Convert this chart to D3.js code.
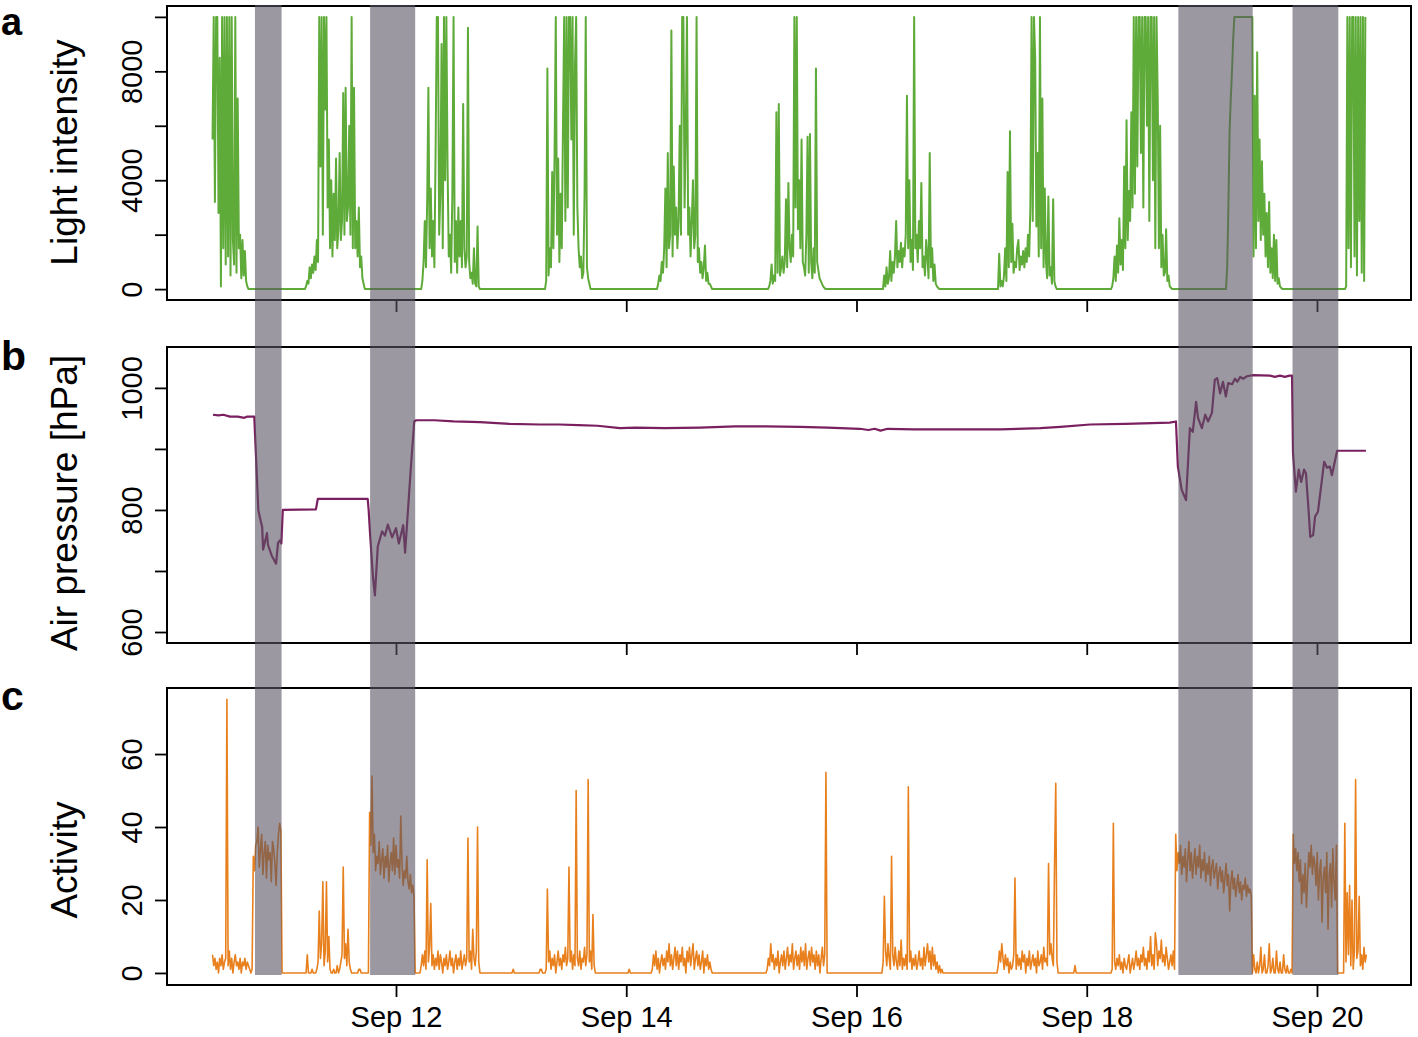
<!DOCTYPE html>
<html><head><meta charset="utf-8">
<script src="https://cdn.jsdelivr.net/npm/d3@7"></script>
<style>html,body{margin:0;padding:0;background:#fff;} svg{display:block;}</style>
</head><body>
<svg id="chart" width="1418" height="1037"></svg>
<script>
// ---------- DATA (hours since Sep 10 00:00) ----------
const STEP_H = 0.25; // sampling step inside each recorded block (hours)

// Light intensity blocks: start hour + readings every 15 min
const lightStarts = [9.75, 29.0, 53.0, 79.06, 102.41, 125.55, 149.52, 173.5, 197.05, 221.03, 245.83];
const lightSep10 = [5500,10000,3200,10000,10000,2800,8500,100,10000,1500,10000,900,10000,1200,10000,500,10000,1800,900,10000,600,7000,1500,2000,400,1800,500,1400,300,100,0];
const lightSep11 = [0,100,300,200,800,400,900,600,1200,700,1800,1000,10000,4500,10000,2000,10000,6600,10000,3000,5500,1500,4000,1200,3500,1800,4800,1500,2200,5000,1800,2500,7200,2000,7400,2500,3000,6000,2000,10000,1500,7400,1500,2500,1200,3000,800,1200,400,200,0];
const lightSep12 = [0,0,300,1000,2500,800,3200,7400,1500,3700,1200,2500,800,5000,10000,10000,2000,3500,9000,1500,10000,4000,10000,4500,1200,2000,600,3500,10000,1000,2500,600,3000,1200,2500,800,6800,1500,800,1200,9600,1000,400,600,200,1500,200,100,2300,100,0];
const lightSep13 = [0,300,8100,500,1500,800,4300,1500,5000,10000,2000,4800,1000,3500,1500,6000,10000,2500,10000,3000,10000,10000,5500,10000,2000,8200,10000,3000,1500,800,1200,400,600,3500,10000,800,400,200,0];
const lightSep14 = [0,200,500,300,1000,600,1500,3700,800,5000,1500,2000,9500,1200,4500,2000,3000,1500,2500,6000,2000,10000,10000,3000,5800,10000,2000,3000,1200,2500,4000,1500,2000,10000,1000,1500,600,1000,400,800,1600,300,600,200,200,100,0];
const lightSep15 = [0,100,300,900,200,500,300,6500,600,6800,500,800,1200,600,1000,3300,800,3900,1500,1000,2000,1200,10000,3000,10000,2200,4000,1500,5500,1000,800,500,2000,5600,600,5700,1000,400,1500,600,8100,1000,700,400,300,200,100,50,0];
const lightSep16 = [0,500,100,800,200,400,1400,300,1000,600,1200,2500,800,1400,1000,1700,800,1500,1200,2000,7100,1500,4000,1000,1800,700,10000,1500,2000,1000,2500,1500,3900,800,1200,500,1800,1200,400,5000,800,1500,300,900,200,100,50,0];
const lightSep17 = [0,1300,100,300,100,500,1500,300,4300,800,5800,1000,2400,600,1000,800,1500,1800,700,1200,900,1400,800,1500,1000,2000,1200,3000,10000,2500,10000,8500,2300,5000,1200,10000,1500,7000,800,3700,1000,400,3400,500,800,200,3300,300,100,0];
const lightSep18 = [0,100,400,1200,300,1600,600,2600,900,1800,700,4500,1500,6200,1800,3600,2500,6500,3000,10000,3500,10000,4500,10000,10000,5000,10000,3000,10000,10000,6000,10000,2500,10000,10000,4000,10000,1500,10000,7000,1500,6000,800,2000,500,600,2200,300,500,100,50,0];
const lightSep19 = [0,800,3000,5800,7000,8000,9200,10000,10000,10000,10000,10000,10000,10000,10000,10000,10000,10000,10000,10000,10000,10000,10000,1200,7100,1500,8700,2500,5500,1800,4700,2000,3500,1200,2800,800,3200,600,1500,400,2000,300,1800,200,400,100,50,0];
const lightSep20 = [0,100,10000,1500,10000,800,10000,10000,1200,10000,500,10000,2500,10000,600,10000,300,10000];
const lightDays = [lightSep10, lightSep11, lightSep12, lightSep13, lightSep14, lightSep15, lightSep16, lightSep17, lightSep18, lightSep19, lightSep20];

// Air pressure [hPa]: [hour, value]
const pressure = [[9.85,956],[11.0,955],[12.0,956],[13.4,953],[15.0,953],[16.4,951],[17.0,953],[18.45,953],[19.3,800],[19.7,785],[20.1,772],[20.3,735],[21.1,762],[21.3,743],[22.1,725],[23.0,712],[23.4,746],[23.8,750],[24.1,745],[24.4,800],[31.3,801],[31.7,818],[42.1,818],[42.3,800],[42.6,760],[43.2,690],[43.6,660],[44.2,740],[45.1,765],[45.7,758],[46.3,776],[47.2,755],[48.0,770],[48.6,745],[49.5,775],[49.9,730],[50.5,800],[51.1,870],[51.8,945],[52.2,947],[56,947],[60,945],[65.5,944],[71.7,941],[78,940],[82,940],[86,939],[90,938],[94.7,934],[98,935],[104,934],[111.4,935],[118.7,937],[125,937],[132.2,936],[138,935],[144.7,933],[146.5,931],[147.8,933],[149,930],[150.5,933],[156,932],[165.6,932],[174,932],[182.3,934],[186.5,936],[192.7,940],[200,941],[209.3,943],[210.6,945],[211.0,871],[211.8,833],[212.7,816],[213.5,934],[214.1,928],[214.8,977],[215.2,951],[216.0,934],[216.7,956],[217.3,945],[218.1,959],[218.7,1013],[219.2,1016],[219.8,991],[220.4,1010],[221.0,986],[221.5,1008],[222.3,1006],[222.9,1015],[223.4,1010],[224.0,1018],[224.6,1015],[225.4,1019],[226.7,1021],[230.2,1020],[231.2,1018],[232.3,1020],[233.3,1018],[234.3,1020],[234.8,1020],[235.0,893],[235.6,830],[236.2,866],[236.7,846],[237.3,866],[237.7,860],[238.2,805],[238.6,756],[239.2,759],[239.6,789],[240.2,797],[241.5,879],[242.1,869],[242.7,871],[243.1,857],[244.2,897],[250.2,897]];

// Activity blocks: start hour + readings every 15 min
const activityStarts = [9.75, 29.0, 72.18, 77.81, 96.37, 101.18, 125.13, 149.31, 173.29, 189.3, 197.05];
const actSep10 = [5,2,4,1,3,0,4,2,5,1,3,4,75,2,6,1,4,0,3,5,2,3,1,4,0,3,2,4,1,3,2,1,0,1,32,28,35,36,40,29,34,38,27,33,36,26,35,31,33,25,36,34,30,24,33,38,41,39,0];
const actSep11 = [0,0,5,0,0,0,1,0,0,0,1,3,17,4,8,25,2,6,25,3,10,1,0,0,1,0,0,2,0,1,3,5,29,4,8,2,12,3,1,0,0,0,0,0,0,1,1,0,0,
  0,0,0,0,0,
  44,35,54,33,38,28,32,30,36,27,31,34,26,32,29,35,25,30,33,28,37,27,35,29,31,26,43,30,24,28,26,32,25,23,27,22,24,21,
  0,0,0,0,0,
  2,5,2,6,1,31,3,7,19,2,5,1,4,2,6,1,5,3,0,4,2,5,1,3,6,2,4,0,3,5,1,4,2,6,1,3,5,2,4,37,3,6,1,12,4,2,6,40,3,0];
const actSep12Night = [0,1,0];
const actSep13 = [0,1,1,0,0,0,1,23,3,6,1,4,2,5,0,3,6,2,4,1,5,3,7,2,4,29,3,6,1,5,2,50,4,2,6,1,4,3,7,2,5,53,3,6,1,16,2,0];
const actSep13Night = [0,1,0];
const actSep14 = [0,1,5,2,6,1,4,0,3,5,2,4,1,6,3,8,2,5,1,4,7,2,6,1,5,3,7,2,4,0,6,3,7,2,5,8,1,4,6,2,5,1,3,6,0,4,2,5,1,3,1,0];
const actSep15 = [0,1,4,2,8,3,5,1,4,2,6,0,3,5,2,6,1,4,7,2,5,3,8,1,4,6,2,5,1,7,3,6,2,8,1,4,6,2,7,3,5,1,6,2,5,0,4,7,2,5,55,0];
const actSep16 = [0,3,21,6,2,8,4,1,32,5,2,7,3,1,6,2,9,1,4,2,5,1,51,3,6,1,4,2,5,1,3,6,2,4,1,7,2,5,8,3,6,1,7,2,5,1,3,0,2,0,1,0];
const actSep17 = [0,2,6,3,8,4,1,5,2,4,0,3,1,2,5,26,1,5,2,4,1,6,3,5,0,4,2,6,1,3,5,2,4,0,6,2,3,5,1,7,3,4,2,30,5,8,4,2,30,52,3,0];
const actSep17Night = [0,2,0];
const actSep18to20 = [0,1,41,3,1,4,2,5,1,3,0,4,2,1,3,5,0,2,4,1,3,6,2,4,1,5,3,7,2,4,1,6,3,10,2,5,1,11,8,2,6,4,9,3,5,2,7,4,1,3,5,2,6,1,
  38,28,33,30,35,27,32,29,34,25,31,36,28,33,26,30,34,27,32,29,35,26,31,28,33,25,30,27,32,24,29,31,26,28,30,23,27,29,25,28,22,26,30,24,27,17,25,28,23,26,21,24,27,22,25,20,24,23,26,21,24,22,23,21,
  0,
  5,1,0,3,0,2,7,0,1,5,0,0,2,8,0,1,4,0,0,6,1,0,3,0,0,5,1,0,2,0,0,1,0,
  38,30,34,28,33,25,31,19,27,22,30,18,26,33,29,35,27,32,30,24,33,20,28,31,14,26,29,22,33,12,27,30,18,34,25,20,35,
  0,0,0,0,0,0,41,3,22,5,24,2,20,1,6,53,4,6,21,2,5,1,7,3,5];
const activityDays = [actSep10, actSep11, actSep12Night, actSep13, actSep13Night, actSep14, actSep15, actSep16, actSep17, actSep17Night, actSep18to20];

// Shaded (flight) periods [startHour, endHour]
const shadeStart = [18.6, 42.6, 211.1, 234.9];
const shadeEnd   = [24.15, 52.0, 226.6, 244.45];

// Axis ticks
const xTickHours = [48, 96, 144, 192, 240];
const lightTicks = [0, 2000, 4000, 6000, 8000, 10000];
const lightTickLabels = [0, 4000, 8000];
const pressureTicks = [600, 700, 800, 900, 1000];
const pressureTickLabels = [600, 800, 1000];
const activityTicks = [0, 20, 40, 60];
const activityTickLabels = [0, 20, 40, 60];

const panelLetters = ["a", "b", "c"];
const yTitles = ["Light intensity", "Air pressure [hPa]", "Activity"];

// ---------- DRAWING ----------
const t0 = new Date(2019, 8, 10, 0, 0, 0);
const toDate = h => new Date(t0.getTime() + h * 3600000);
function expand(starts, days) {
  const out = [];
  starts.forEach((s, i) => days[i].forEach((v, j) => out.push({t: toDate(s + j * STEP_H), v})));
  return out;
}
const lightData = expand(lightStarts, lightDays);
const activityData = expand(activityStarts, activityDays);
const pressureData = pressure.map(d => ({t: toDate(d[0]), v: d[1]}));

const FONT = "'Liberation Sans', Arial, Helvetica, sans-serif";
const L = 167, R = 1411;
const panels = [
  {top: 6, bottom: 300, domain: [-400, 10400], ticks: lightTicks, labels: lightTickLabels, data: lightData, color: "#5fab3a", width: 2, titleY: 152.5},
  {top: 347, bottom: 643, domain: [582, 1067], ticks: pressureTicks, labels: pressureTickLabels, data: pressureData, color: "#7a1f5f", width: 2.2, titleY: 503},
  {top: 688, bottom: 985, domain: [-3.3, 78.1], ticks: activityTicks, labels: activityTickLabels, data: activityData, color: "#e8801e", width: 1.6, titleY: 860}
];
const letterBase = [35, 370, 710];
const letterSize = [38, 41, 41];

const svg = d3.select("#chart");
const x = d3.scaleTime().domain([toDate(0.26), toDate(259.6)]).range([L, R]);

panels.forEach((p, i) => {
  const y = d3.scaleLinear().domain(p.domain).range([p.bottom, p.top]);
  const g = svg.append("g");
  // line
  g.append("path").datum(p.data)
    .attr("fill", "none").attr("stroke", p.color).attr("stroke-width", p.width)
    .attr("stroke-linejoin", "round")
    .attr("d", d3.line().x(d => x(d.t)).y(d => y(d.v)));
  // y axis
  const ya = g.append("g").attr("transform", `translate(${L},0)`)
    .call(d3.axisLeft(y).tickValues(p.ticks).tickSize(12)
      .tickFormat(d => p.labels.includes(d) ? String(d) : ""));
  ya.select(".domain").remove();
  ya.selectAll(".tick line").attr("stroke", "#000").attr("stroke-width", 1.8);
  ya.selectAll(".tick text")
    .attr("transform", "rotate(-90)").attr("x", 0).attr("y", -25).attr("dy", 0)
    .attr("text-anchor", "middle").attr("fill", "#000")
    .style("font-family", FONT).style("font-size", "29px");
  // x axis
  const xa = g.append("g").attr("transform", `translate(0,${p.bottom})`)
    .call(d3.axisBottom(x).tickValues(xTickHours.map(toDate)).tickSize(12)
      .tickFormat(i === 2 ? d3.timeFormat("%b %d") : () => ""));
  xa.select(".domain").remove();
  xa.selectAll(".tick line").attr("stroke", "#000").attr("stroke-width", 1.8);
  xa.selectAll(".tick text").attr("y", 42).attr("dy", 0).attr("fill", "#000")
    .style("font-family", FONT).style("font-size", "29px");
  // box
  g.append("rect").attr("x", L).attr("y", p.top).attr("width", R - L).attr("height", p.bottom - p.top)
    .attr("fill", "none").attr("stroke", "#000").attr("stroke-width", 2);
  // y title
  g.append("text").attr("transform", `translate(77,${p.titleY}) rotate(-90)`)
    .attr("text-anchor", "middle").style("font-family", FONT).style("font-size", "37px")
    .text(yTitles[i]);
  // panel letter
  svg.append("text").attr("x", 1).attr("y", letterBase[i])
    .style("font-family", FONT).style("font-size", letterSize[i] + "px").style("font-weight", "bold")
    .text(panelLetters[i]);
});

// shaded periods overlay
svg.append("g").selectAll("rect").data(shadeStart.map((s, i) => [s, shadeEnd[i]])).join("rect")
  .attr("x", d => x(toDate(d[0]))).attr("width", d => x(toDate(d[1])) - x(toDate(d[0])))
  .attr("y", 5).attr("height", 970)
  .attr("fill", "#5a5462").attr("fill-opacity", 0.6);
</script>
</body></html>
